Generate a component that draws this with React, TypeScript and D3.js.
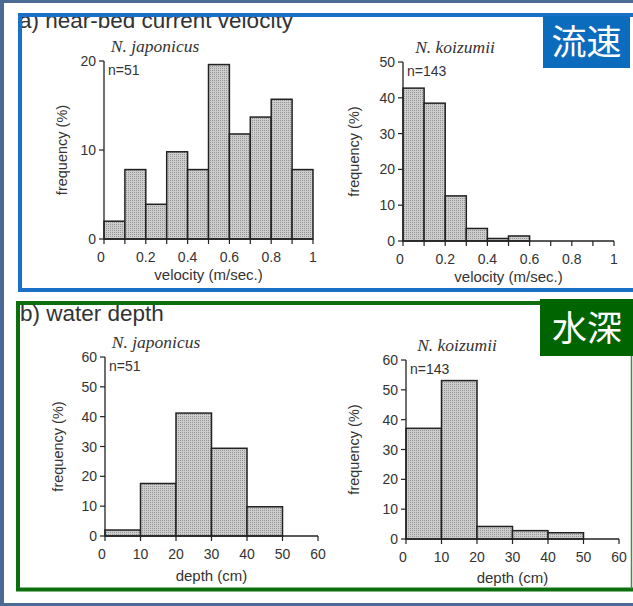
import React from 'react';
import * as d3 from 'd3';

// bin edges and percentages
const velEdges = [0, 0.1, 0.2, 0.3, 0.4, 0.5, 0.6, 0.7, 0.8, 0.9, 1];
const velJaponicus = [2.0, 7.8, 3.9, 9.8, 7.8, 19.6, 11.8, 13.7, 15.7, 7.8];
const velKoizumii = [42.7, 38.5, 12.6, 3.5, 0.7, 1.4, 0, 0, 0, 0];
const velTickLabels = ['0', '0.2', '0.4', '0.6', '0.8', '1'];

const depthEdges = [0, 10, 20, 30, 40, 50, 60];
const depthJaponicus = [2.0, 17.6, 41.2, 29.4, 9.8, 0];
const depthKoizumii = [37.1, 53.1, 4.2, 2.8, 2.1, 0];
const depthTickLabels = ['0', '10', '20', '30', '40', '50', '60'];

const yTicksVelJap = [0, 10, 20];
const yTicksVelKoi = [0, 10, 20, 30, 40, 50];
const yTicksDepth = [0, 10, 20, 30, 40, 50, 60];

const SANS = '"Liberation Sans", Arial, sans-serif';
const SERIF = '"Liberation Serif", "Times New Roman", serif';
const CJK = '"Noto Sans CJK JP", "Noto Sans CJK SC", sans-serif';

interface PanelProps {
  edges: number[];
  values: number[];
  tickLabels: string[];
  yTicks: number[];
  xRange: [number, number];
  yRange: [number, number];
  title: string;
  n: string;
  xLabel: string;
  titleX: number;
  ylabelX: number;
  xlabelY: number;
}

const Panel: React.FC<PanelProps> = (p) => {
  const xDom: [number, number] = [p.edges[0], p.edges[p.edges.length - 1]];
  const x = d3.scaleLinear().domain(xDom).range(p.xRange);
  const y = d3.scaleLinear().domain([0, p.yTicks[p.yTicks.length - 1]]).range(p.yRange);
  const x0 = p.xRange[0];
  const y0 = p.yRange[0];
  const labelStep = (p.edges.length - 1) / (p.tickLabels.length - 1);
  const ink = '#222';

  return (
    <g>
      {p.values.map((v, i) =>
        v > 0 ? (
          <rect
            key={i}
            x={x(p.edges[i])}
            y={y(v)}
            width={x(p.edges[i + 1]) - x(p.edges[i])}
            height={y0 - y(v)}
            fill="url(#dots)"
            stroke={ink}
            strokeWidth={1.5}
          />
        ) : null
      )}
      {/* axes */}
      <line x1={x0} x2={x0} y1={y0} y2={p.yRange[1]} stroke={ink} strokeWidth={1.3} />
      <line x1={x0} x2={p.xRange[1]} y1={y0} y2={y0} stroke={ink} strokeWidth={1.3} />
      {p.yTicks.map((t) => (
        <g key={'y' + t}>
          <line x1={x0 - 5} x2={x0} y1={y(t)} y2={y(t)} stroke={ink} strokeWidth={1.2} />
          <text x={x0 - 8} y={y(t)} dy="0.36em" textAnchor="end" fontFamily={SANS} fontSize={14} fill="#333">
            {t}
          </text>
        </g>
      ))}
      {p.edges.map((e, i) => (
        <line key={'x' + i} x1={x(e)} x2={x(e)} y1={y0} y2={y0 + 5} stroke={ink} strokeWidth={1.2} />
      ))}
      {p.tickLabels.map((lab, i) => (
        <text
          key={'xl' + i}
          x={x(p.edges[Math.round(i * labelStep)]) - (i === 0 ? 3 : 0)}
          y={y0 + 23}
          textAnchor="middle"
          fontFamily={SANS}
          fontSize={14}
          fill="#333"
        >
          {lab}
        </text>
      ))}
      <text x={p.titleX} y={p.yRange[1] - 9} textAnchor="middle" fontFamily={SERIF} fontStyle="italic" fontSize={17.5} fill="#333">
        {p.title}
      </text>
      <text x={x0 + 4} y={p.yRange[1] + 14} fontFamily={SANS} fontSize={14} fill="#333">
        {p.n}
      </text>
      <text
        transform={`translate(${p.ylabelX},${(y0 + p.yRange[1]) / 2}) rotate(-90)`}
        textAnchor="middle"
        dy="0.35em"
        fontFamily={SANS}
        fontSize={14.5}
        fill="#333"
      >
        frequency (%)
      </text>
      <text x={(p.xRange[0] + p.xRange[1]) / 2} y={p.xlabelY} textAnchor="middle" fontFamily={SANS} fontSize={15} fill="#333">
        {p.xLabel}
      </text>
    </g>
  );
};

const App: React.FC = () => {
  const W = 633;
  const H = 606;
  return (
    <svg width={W} height={H} style={{ position: 'absolute', left: 0, top: 0 }}>
      <defs>
        <pattern id="dots" width={2} height={2} patternUnits="userSpaceOnUse">
          <rect width={2} height={2} fill="#cdcdcd" />
          <rect width={1} height={1} fill="#949494" />
        </pattern>
        <clipPath id="topClip">
          <rect x={0} y={14} width={W} height={40} />
        </clipPath>
      </defs>
      <rect width={W} height={H} fill="#4b6a96" />
      <rect x={4} y={3} width={W - 4} height={600} fill="#ffffff" />

      {/* a) panel */}
      <text x={19} y={28} fontFamily={SANS} fontSize={22.5} fill="#333" clipPath="url(#topClip)">
        a) near-bed current velocity
      </text>
      <path d={`M${W + 5},15 H20 V290 H${W + 5}`} fill="none" stroke="#1a6fc6" strokeWidth={4} />
      <rect x={543} y={16} width={87} height={52} fill="#0b6bbd" />
      <text x={586.5} y={42} dy="0.36em" textAnchor="middle" fontFamily={CJK} fontSize={35} fill="#ffffff">
        流速
      </text>

      <Panel
        edges={velEdges}
        values={velJaponicus}
        tickLabels={velTickLabels}
        yTicks={yTicksVelJap}
        xRange={[104, 313]}
        yRange={[239, 61]}
        title="N. japonicus"
        n="n=51"
        xLabel="velocity (m/sec.)"
        titleX={155}
        ylabelX={62}
        xlabelY={280}
      />
      <Panel
        edges={velEdges}
        values={velKoizumii}
        tickLabels={velTickLabels}
        yTicks={yTicksVelKoi}
        xRange={[403, 614]}
        yRange={[241, 62]}
        title="N. koizumii"
        n="n=143"
        xLabel="velocity (m/sec.)"
        titleX={455}
        ylabelX={354}
        xlabelY={282}
      />

      {/* b) panel */}
      <path d={`M${W + 5},303 H18 V589.5 H${W + 5}`} fill="none" stroke="#0c6e0c" strokeWidth={4} />
      <line x1={631.5} x2={631.5} y1={356} y2={589} stroke="#3f8f3f" strokeWidth={1.5} />
      <text x={20} y={321} fontFamily={SANS} fontSize={22.5} fill="#333">
        b) water depth
      </text>
      <rect x={540} y={299} width={W - 540} height={57} fill="#006400" />
      <text x={587} y={328} dy="0.36em" textAnchor="middle" fontFamily={CJK} fontSize={35} fill="#ffffff">
        水深
      </text>

      <Panel
        edges={depthEdges}
        values={depthJaponicus}
        tickLabels={depthTickLabels}
        yTicks={yTicksDepth}
        xRange={[105, 318]}
        yRange={[536, 357]}
        title="N. japonicus"
        n="n=51"
        xLabel="depth (cm)"
        titleX={156}
        ylabelX={58}
        xlabelY={581}
      />
      <Panel
        edges={depthEdges}
        values={depthKoizumii}
        tickLabels={depthTickLabels}
        yTicks={yTicksDepth}
        xRange={[406, 619]}
        yRange={[539, 360]}
        title="N. koizumii"
        n="n=143"
        xLabel="depth (cm)"
        titleX={457}
        ylabelX={354}
        xlabelY={583}
      />
    </svg>
  );
};

export default App;
